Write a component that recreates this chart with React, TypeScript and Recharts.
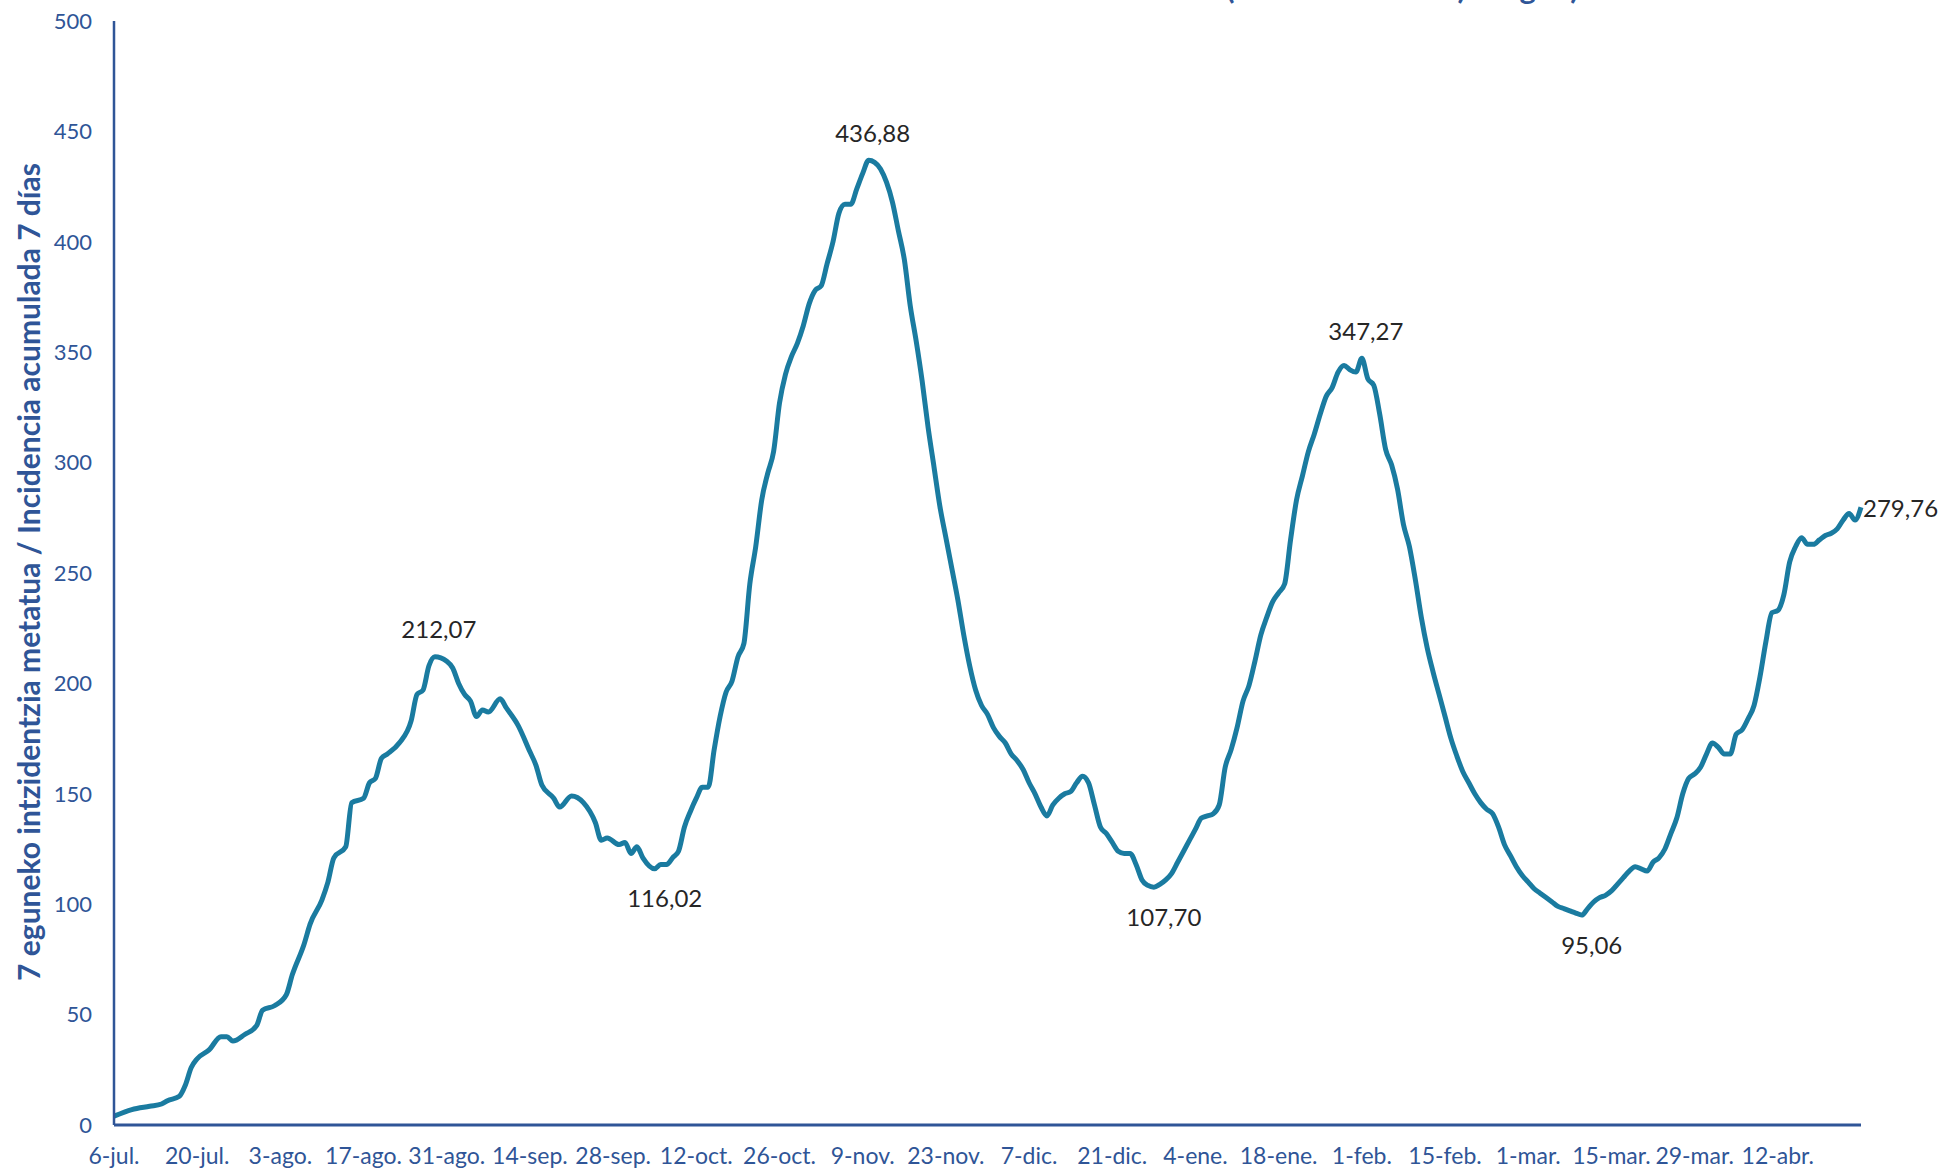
import React from "react";
import { LineChart, Line, XAxis, YAxis } from "recharts";

// days since 6-jul-2020 (sampled where the curve was read)
const days = [
  0, 3, 6, 8, 9, 11, 12, 13, 14, 16, 18, 19, 20, 22, 24, 25, 27, 29, 30, 32, 33, 35, 36, 37, 39, 40,
  42, 43, 44, 45, 46, 48, 50, 51, 52, 53, 54, 56, 57, 58, 59, 60, 61, 62, 63, 65, 66, 68, 70, 71, 72,
  74, 75, 77, 79, 81, 82, 83, 85, 86, 87, 88, 89, 91, 92, 93, 94, 95, 96, 97, 98, 99, 100,
  101, 102, 103, 104, 105, 106, 107, 108, 109, 110, 111, 112, 113, 114, 115, 116, 117, 118, 119, 120,
  121, 122, 123, 124, 125, 126, 127, 128, 129, 130, 131, 132, 133, 134, 135, 136, 137, 138, 139, 140,
  141, 142, 143, 144, 145, 146, 147, 148, 149, 150, 151, 152, 153, 154, 155, 156, 157, 158, 159, 160,
  161, 162, 163, 164, 165, 166, 167, 168, 169, 170, 171, 172, 173, 174, 175, 176, 177, 178, 179, 180,
  181, 182, 183, 184, 185, 186, 187, 188, 189, 190, 191, 192, 193, 194, 195, 196, 197, 198, 199, 200,
  201, 202, 203, 204, 205, 206, 207, 208, 209, 210, 211, 212, 213, 214, 215, 216, 217, 218, 219, 220,
  221, 222, 223, 224, 225, 226, 227, 228, 229, 230, 231, 232, 233, 234, 235, 236, 237, 238, 239, 240,
  241, 242, 243, 244, 245, 246, 247, 248, 249, 250, 251, 252, 253, 254, 255, 256, 257, 258, 259, 260,
  261, 262, 263, 264, 265, 266, 267, 268, 269, 270, 271, 272, 273, 274, 275, 276, 277, 278, 279, 280,
  281, 282, 283, 284, 285, 286, 287, 288, 289, 290, 291, 292, 293, 294,
];

// 7-day cumulative incidence
const incidence = [
  4, 7, 8.5, 9.5, 11, 13, 18, 26, 30, 34, 40, 40, 38, 41, 45, 52, 54, 59, 68, 82, 91, 102, 110, 121, 126, 146,
  148, 155, 157, 166, 168, 173, 183, 195, 197, 208, 212.07, 210, 207, 200, 195, 192, 185, 188, 187, 193, 189, 181, 169, 163, 154,
  148, 144, 149, 146, 137, 129, 130, 127, 128, 123, 126, 121, 116.02, 118, 118, 121, 124, 135, 142, 148, 153, 153,
  170, 185, 196, 201, 212, 218, 245, 262, 283, 295, 305, 327, 340, 348, 354, 362, 372, 378, 380, 390,
  400, 413, 417, 417, 424, 431, 436.88, 436, 433, 427, 418, 405, 392, 371, 355, 337, 316, 298, 280, 266,
  252, 238, 222, 208, 197, 190, 186, 180, 176, 173, 168, 165, 161, 155, 150, 144, 140, 145, 148, 150,
  151, 155, 158, 155, 145, 135, 132, 128, 124, 123, 123, 118, 111, 108.5, 107.7, 109, 111, 114, 119, 124,
  129, 134, 139, 140, 141, 145, 162, 170, 180, 192, 199, 210, 222, 230, 237, 241, 245, 265, 283, 294,
  305, 313, 322, 330, 334, 341, 344, 342, 341, 347.27, 338, 335, 322, 306, 299, 288, 272, 262, 247, 230,
  216, 205, 195, 185, 175, 167, 160, 155, 150, 146, 143, 141, 135, 127, 122, 117, 113, 110, 107, 105,
  103, 101, 99, 98, 97, 96, 95.06, 98, 101, 103, 104, 106, 109, 112, 115, 117, 116, 115, 119, 121,
  125, 132, 139, 150, 157, 159, 162, 168, 173, 171, 168, 168, 177, 179, 184, 190, 203, 219, 232, 233,
  240, 255, 262, 266, 263, 263, 265, 267, 268, 270, 274, 277, 274, 279.76,
];

const tickDays = [0, 14, 28, 42, 56, 70, 84, 98, 112, 126, 140, 154, 168, 182, 196, 210, 224, 238, 252, 266, 280];
const tickLabels = [
  "6-jul.", "20-jul.", "3-ago.", "17-ago.", "31-ago.", "14-sep.", "28-sep.", "12-oct.", "26-oct.", "9-nov.",
  "23-nov.", "7-dic.", "21-dic.", "4-ene.", "18-ene.", "1-feb.", "15-feb.", "1-mar.", "15-mar.", "29-mar.", "12-abr.",
];
const yTicks = [0, 50, 100, 150, 200, 250, 300, 350, 400, 450, 500];

// days whose value is written on the chart
const annotatedDays = [54, 91, 127, 175, 210, 247, 294];

const data = days.map((day, i) => ({ day, value: incidence[i] }));

const AXIS = "#2F5597";
const LINE = "#1A7BA0";
const FONT = "Lato, 'Open Sans', sans-serif";

const fmt = (v: number) => v.toFixed(2).replace(".", ",");

function PointLabel(props: any) {
  const { x, y, index } = props;
  const d = data[index];
  if (!d || !annotatedDays.includes(d.day)) return null;
  const style = { fill: "#262626", fontSize: 24, fontFamily: FONT };
  if (index === data.length - 1) {
    return (
      <text x={x + 2} y={y} dominantBaseline="central" textAnchor="start" style={style}>
        {fmt(d.value)}
      </text>
    );
  }
  const prev = data[index - 1]?.value ?? d.value;
  const next = data[index + 1]?.value ?? d.value;
  const isMin = d.value <= prev && d.value <= next;
  return (
    <text
      x={x + (isMin ? 10 : 4)}
      y={isMin ? y + 29 : y - 28}
      dominantBaseline="central"
      textAnchor="middle"
      style={style}
    >
      {fmt(d.value)}
    </text>
  );
}

export default function App() {
  return (
    <div style={{ position: "absolute", left: 0, top: 0, width: 1939, height: 1174, background: "#fff" }}>
      <svg width={1939} height={1174} style={{ position: "absolute", left: 0, top: 0 }}>
        {/* title sits above the frame; only its lowest strokes show, as in the source */}
        <text y={-1} style={{ fill: AXIS, fontSize: 31, fontWeight: 700, fontFamily: FONT }}>
          <tspan x={1226} textLength={240}>(100.000 biztanleko)</tspan>
          <tspan x={1503}>egun)</tspan>
        </text>
        <text
          transform="translate(28 572) rotate(-90)"
          textAnchor="middle"
          dominantBaseline="central"
          style={{ fill: AXIS, fontSize: 30, fontWeight: 700, fontFamily: FONT }}
        >
          7 eguneko intzidentzia metatua / Incidencia acumulada 7 días
        </text>
      </svg>
      <div style={{ position: "absolute", left: 0, top: 0 }}>
        <LineChart width={1939} height={1174} data={data} margin={{ top: 21, right: 78, bottom: 19, left: 0 }}>
          <XAxis
            dataKey="day"
            type="number"
            domain={[0, 294]}
            ticks={tickDays}
            interval={0}
            height={30}
            tickFormatter={(d: number) => tickLabels[tickDays.indexOf(d)]}
            axisLine={{ stroke: AXIS, strokeWidth: 3 }}
            tickLine={false}
            tickSize={21}
            tickMargin={2}
            tick={{ fill: AXIS, fontSize: 23, fontFamily: FONT }}
          />
          <YAxis
            width={114}
            domain={[0, 500]}
            ticks={yTicks}
            interval={0}
            axisLine={{ stroke: AXIS, strokeWidth: 2.5 }}
            tickLine={false}
            tickSize={20}
            tickMargin={2}
            tick={{ fill: AXIS, fontSize: 22, fontFamily: FONT }}
          />
          <Line
            type="monotone"
            dataKey="value"
            stroke={LINE}
            strokeWidth={5}
            dot={false}
            activeDot={false}
            label={<PointLabel />}
            isAnimationActive={false}
          />
        </LineChart>
      </div>
    </div>
  );
}
